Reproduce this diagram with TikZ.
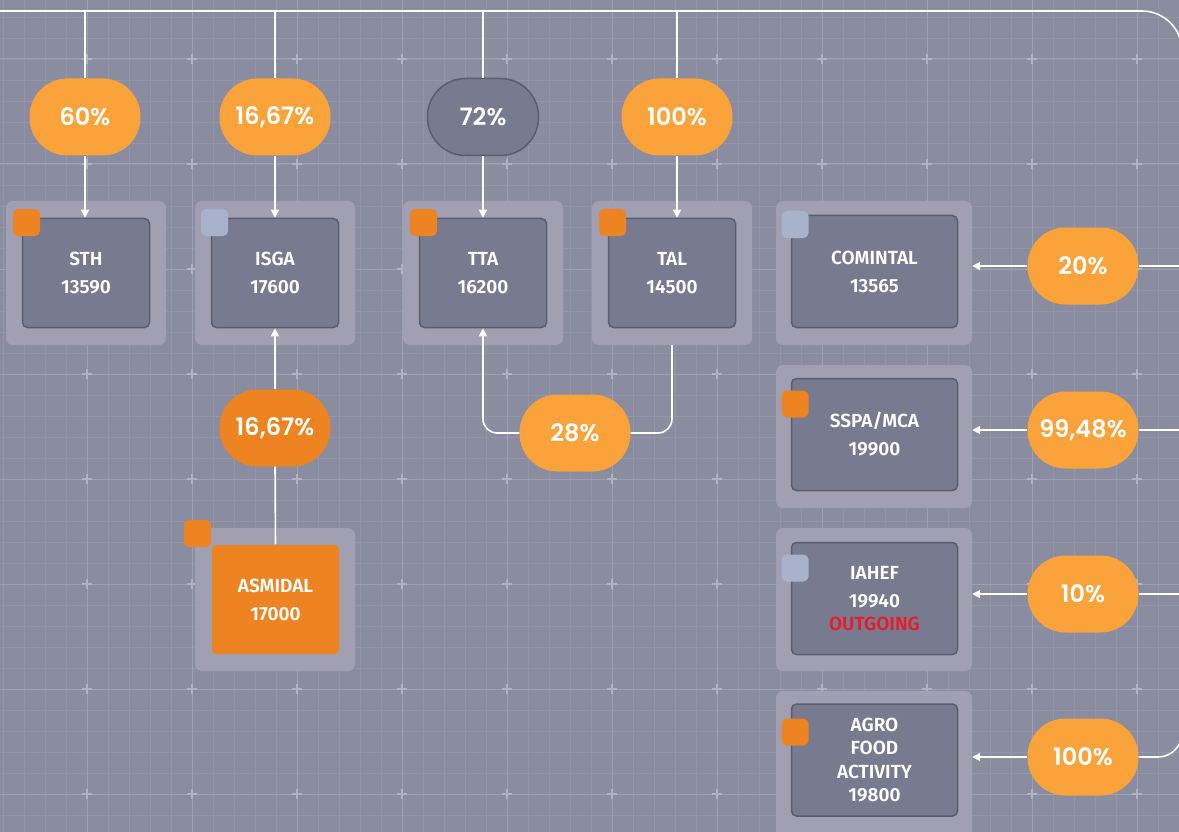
\documentclass[tikz,border=0pt]{standalone}
\usepackage{fontspec}
\setsansfont{Fira Sans}[BoldFont={Fira Sans SemiBold}]
\newfontfamily\pillfont{Poppins}[BoldFont={Poppins SemiBold}]
\usetikzlibrary{arrows.meta}
\definecolor{bgcol}{RGB}{138,140,160}
\definecolor{gridcol}{RGB}{147,149,168}
\definecolor{gridmaj}{RGB}{158,160,179}
\definecolor{panelcol}{RGB}{160,160,178}
\definecolor{boxcol}{RGB}{120,122,143}
\definecolor{boxline}{RGB}{90,92,112}
\definecolor{pillorange}{RGB}{249,163,58}
\definecolor{deeporange}{RGB}{238,131,34}
\definecolor{badgegray}{RGB}{168,178,202}
\definecolor{outred}{RGB}{232,28,38}
\begin{document}
\begin{tikzpicture}[x=1pt,y=-1pt,
  >={Triangle[length=8pt,width=8pt]},
  wire/.style={draw=white,line width=1.6pt},
  panel/.style={fill=panelcol,rounded corners=7pt,inner sep=0pt,minimum width=160pt,minimum height=144pt},
  widepanel/.style={panel,minimum width=196pt},
  company/.style={draw=boxline,line width=1.5pt,fill=boxcol,rounded corners=5pt,inner sep=0pt,
    minimum width=127pt,minimum height=109pt,text=white,align=center,
    font=\sffamily\bfseries\fontsize{19}{28}\selectfont},
  widecompany/.style={company,minimum width=166pt,minimum height=112pt},
  badge/.style={rounded corners=5pt,inner sep=0pt,minimum size=27pt},
  pill/.style={fill=pillorange,rounded corners=38pt,inner sep=0pt,minimum width=111pt,
    minimum height=77pt,text=white,font=\pillfont\bfseries\fontsize{24}{24}\selectfont}]
\fill[bgcol] (0,0) rectangle (1179,832);
\useasboundingbox (0,0) rectangle (1179,832);
\foreach \gx in {3,24,...,1179} \draw[gridcol,line width=0.8pt] (\gx,0) -- (\gx,832);
\foreach \gy in {17,38,...,832} \draw[gridcol,line width=0.8pt] (0,\gy) -- (1179,\gy);
\foreach \gx in {87,192,...,1179} \draw[gridmaj,line width=1pt] (\gx,0) -- (\gx,832);
\foreach \gy in {59,164,...,832} \draw[gridmaj,line width=1pt] (0,\gy) -- (1179,\gy);
\foreach \gx in {87,192,...,1179}
  \foreach \gy in {59,164,...,832}
    \draw[gridmaj!80!white,line width=1.2pt] (\gx-5,\gy) -- (\gx+5,\gy) (\gx,\gy-5) -- (\gx,\gy+5);

\node[panel] (sthpanel) at (86,273) {};
\node[panel] (isgapanel) at (275,273) {};
\node[panel] (ttapanel) at (483,273) {};
\node[panel] (talpanel) at (672,273) {};
\node[panel,minimum height=143pt] (asmpanel) at (275,599.5) {};
\node[widepanel] (cominpanel) at (874,273) {};
\node[widepanel,minimum height=143pt] (sspapanel) at (874,436.5) {};
\node[widepanel,minimum height=143pt] (iahefpanel) at (874,599.5) {};
\node[widepanel,minimum height=158pt] (agropanel) at (874,770) {};

\node[company] (sth) at (86,273) {STH\\13590};
\node[company] (isga) at (275,273) {ISGA\\17600};
\node[company] (tta) at (483,273) {TTA\\16200};
\node[company] (tal) at (672,273) {TAL\\14500};
\node[company,draw=none,fill=deeporange,rounded corners=4pt] (asmidal) at (275.5,599.5) {ASMIDAL\\17000};
\node[widecompany] (comintal) at (874.5,271.5) {COMINTAL\\13565};
\node[widecompany] (sspa) at (874.5,434.5) {SSPA/MCA\\19900};
\node[widecompany] (iahef) at (874.5,598.5) {IAHEF\\19940\\[-5pt]\textcolor{outred}{OUTGOING}};
\node[widecompany,font=\sffamily\bfseries\fontsize{19}{23.5}\selectfont] (agro) at (874.5,760) {AGRO\\FOOD\\ACTIVITY\\19800};

\node[badge,fill=deeporange] (sthbadge) at (26.5,222.5) {};
\node[badge,fill=badgegray] (isgabadge) at (214.5,222.5) {};
\node[badge,fill=deeporange] (ttabadge) at (423.5,222.5) {};
\node[badge,fill=deeporange] (talbadge) at (612.5,222.5) {};
\node[badge,fill=deeporange] (asmbadge) at (197.5,533.5) {};
\node[badge,fill=badgegray] (cominbadge) at (795,224.5) {};
\node[badge,fill=deeporange] (sspabadge) at (795,404) {};
\node[badge,fill=badgegray] (iahefbadge) at (795,568) {};
\node[badge,fill=deeporange] (agrobadge) at (795,732) {};

\node[pill] (p60) at (85,117) {60\%};
\node[pill] (pisga) at (275,117) {16,67\%};
\node[pill,fill=boxcol,draw=boxline,line width=1.5pt] (p72) at (483,117) {72\%};
\node[pill] (p100) at (677,117) {100\%};
\node[pill,fill=deeporange] (pasm) at (275,428) {16,67\%};
\node[pill] (p28) at (575,433) {28\%};
\node[pill] (p20) at (1083,266) {20\%};
\node[pill] (p9948) at (1083,430) {99,48\%};
\node[pill] (p10) at (1083,594) {10\%};
\node[pill] (p100b) at (1083,757) {100\%};

\coordinate (topleft) at (0,11);
\coordinate (topright) at (1182,11);
\coordinate (trunkend) at (1182,740);
\coordinate (trunkfoot) at (1182,757);
\draw[wire,rounded corners=40pt] (topleft) -- (topright) -- (trunkend);
\draw[wire,rounded corners=24pt] (p100b.east) -- (trunkfoot) -- (trunkend);
\foreach \p in {p60,pisga,p72,p100} \draw[wire] (\p.north |- topleft) -- (\p.north);
\draw[wire,->] (p60.south) -- (p60.south |- sth.north);
\draw[wire,->] (pisga.south) -- (pisga.south |- isga.north);
\draw[wire,->] (p72.south) -- (p72.south |- tta.north);
\draw[wire,->] (p100.south) -- (p100.south |- tal.north);
\draw[wire,->] (pasm.north) -- (isga.south);
\draw[wire] (pasm.south) -- (asmidal.north);
\draw[wire,rounded corners=14pt] (talpanel.south) -- (talpanel.south |- p28.east) -- (p28.east);
\draw[wire,->,rounded corners=14pt] (p28.west) -- (tta.south |- p28.west) -- (tta.south);
\foreach \p/\q in {p20/cominpanel,p9948/sspapanel,p10/iahefpanel,p100b/agropanel}
  \draw[wire,->] (\p.west) -- (\p.west -| \q.east);
\foreach \p in {p20,p9948,p10} \draw[wire] (\p.east) -- (\p.east -| topright);
\end{tikzpicture}
\end{document}
